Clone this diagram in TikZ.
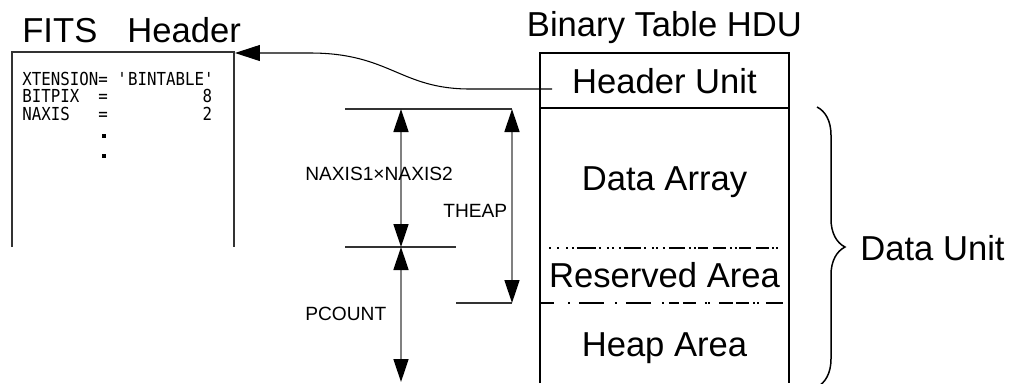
\documentclass[tikz,border=0pt]{standalone}
\usepackage{fontspec}
\setmainfont{Liberation Sans}
\newfontfamily\hdrfont[FakeStretch=0.88]{DejaVu Sans Mono}
\usetikzlibrary{arrows.meta,decorations.pathreplacing}

\tikzset{
  bigtext/.style={font=\fontsize{19.7}{24}\selectfont, inner sep=0pt},
  hdutext/.style={bigtext, anchor=base},
  smalltext/.style={font=\fontsize{10.9}{12}\selectfont, inner sep=0pt, anchor=base west},
  cardtext/.style={font=\hdrfont\fontsize{10.2}{12}\selectfont, inner sep=0pt, anchor=base west},
  thinline/.style={line width=0.6pt, black!80},
  boxline/.style={line width=1.1pt},
  dimarrow/.style={line width=0.8pt, gray, {Triangle[length=0.46cm,width=0.3cm,color=black]}-{Triangle[length=0.46cm,width=0.3cm,color=black]}},
}

\begin{document}
\begin{tikzpicture}[line cap=butt,line join=miter,x=0.02cm,y=-0.02cm]
  \useasboundingbox (0,0) rectangle (1018,383);
  % titles
  \node[bigtext,anchor=base west] (fitstitle) at (22,42) {FITS\hspace{0.6cm}Header};
  \node[hdutext] (hdutitle) at (664.5,36) {Binary Table HDU};
  % FITS header box
  \draw[thinline] (12,247) -- (12,52) -- (234,52) -- (234,247);
  \coordinate (fitsNE) at (235,53);
  \node[cardtext] (cardA) at (22,85) {XTENSION=~\textquotesingle BINTABLE\textquotesingle};
  \node[cardtext] (cardB) at (22,102.5) {BITPIX~~=~~~~~~~~~~8};
  \node[cardtext] (cardC) at (22,120) {NAXIS~~~=~~~~~~~~~~2};
  \fill (102,134) rectangle (106,138);
  \fill (102,154) rectangle (106,158);
  % binary table HDU
  \draw[boxline] (540,383) -- (540,53) -- (789,53) -- (789,383);
  \draw[boxline] (540,108) -- (789,108);
  \draw[line width=0.9pt, dash pattern=on 0mm off 1.8mm on 0.4mm off 1.2mm on 0.4mm off 1.4mm on 0.4mm off 0.8mm on 0.4mm off 0.6mm on 3.8mm off 0.6mm on 0.4mm off 1.2mm on 0.4mm off 0.6mm on 0.4mm off 1mm on 0.4mm off 0.6mm on 3.4mm off 0.6mm on 0.4mm off 1.2mm on 0.4mm off 0.4mm on 0.4mm off 1mm on 0.4mm off 0.8mm on 3.2mm off 0.8mm on 0.4mm off 0.6mm on 0.4mm off 0.4mm on 2mm off 1mm on 2.6mm off 0.8mm on 0.4mm off 0.6mm on 0.4mm off 0.4mm on 2.4mm off 1mm on 2.6mm off 0.6mm on 0.4mm off 0.4mm on 0.4mm off 2mm] (540,248) -- (789,248);
  \draw[line width=0.9pt, dash pattern=on 2.8mm off 2.8mm on 0.4mm off 1.8mm on 5mm off 2.2mm on 0.4mm off 1.8mm on 5mm off 2.2mm on 0.4mm off 1mm on 2mm off 0.8mm on 2.6mm off 1.8mm on 0.4mm off 0.3mm on 0.4mm off 1.7mm on 2.8mm off 0.6mm on 2.6mm off 0.9mm on 0.4mm off 0.4mm on 0.4mm off 1.3mm on 3.4mm off 1.2mm] (540,303) -- (789,303);
  \node[hdutext] (hdrunit) at (664.5,93) {Header Unit};
  \node[hdutext] (dataarr) at (664.5,190) {Data Array};
  \node[hdutext] (resarea) at (664.5,287) {Reserved Area};
  \node[hdutext] (heaparea) at (664.5,356) {Heap Area};
  % data unit brace
  \draw[line width=0.85pt, decorate, decoration={brace,amplitude=0.56cm}] (817,107) -- (817,387);
  \node[bigtext,anchor=base west] (dataunit) at (860,260) {Data Unit};
  % link from header unit to FITS header
  \coordinate (hdrlink) at (552,89);
  \draw[line width=0.6pt, -{Triangle[length=0.5cm,width=0.32cm]}] (hdrlink) -- (470,89) .. controls (400,89) and (390,53) .. (310,53) -- (fitsNE);
  % dimensions
  \draw[thinline] (345,109) -- (512,109);
  \draw[thinline] (345,247) -- (456,247);
  \draw[thinline] (456,303) -- (512,303);
  \coordinate (rowtop) at (401,109);
  \coordinate (rowbot) at (401,247);
  \coordinate (pcbot) at (401,382);
  \coordinate (heaptop) at (512,109);
  \coordinate (heapbot) at (512,303);
  \draw[dimarrow] (rowtop) -- (rowbot);
  \draw[dimarrow] (rowbot) -- (pcbot);
  \draw[dimarrow] (heaptop) -- (heapbot);
  \node[smalltext] (naxlbl) at (305,180) {NAXIS1×NAXIS2};
  \node[smalltext] (theaplbl) at (443,217) {THEAP};
  \node[smalltext] (pclbl) at (305,320) {PCOUNT};
\end{tikzpicture}
\end{document}
